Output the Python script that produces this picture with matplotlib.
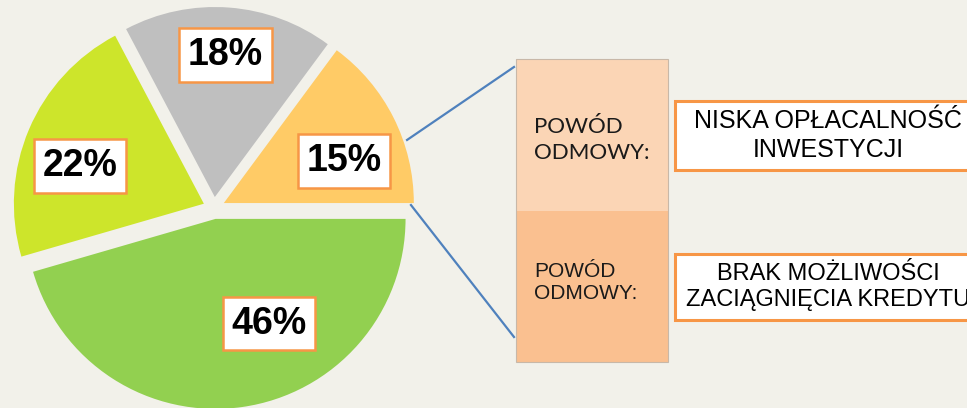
import numpy as np
import matplotlib.pyplot as plt
from matplotlib.patches import Rectangle

# Pie data (share of answers, %)
pie_values = [14.9, 17.9, 21.8, 45.6]
pie_labels = ['15%', '18%', '22%', '46%']
pie_colors = ['#FFCB66', '#BFBFBF', '#CDE52B', '#92D050']

# Bar of pie: split of the 15% slice
bar_values = [50, 50]
bar_texts = ['POWÓD\nODMOWY:', 'POWÓD\nODMOWY:']
bar_colors = ['#FBD5B5', '#FAC090']
reason_texts = ['NISKA OPŁACALNOŚĆ\nINWESTYCJI', 'BRAK MOŻLIWOŚCI\nZACIĄGNIĘCIA KREDYTU']

BG = '#F2F1EA'
ORANGE = '#F79646'
W, H = 967, 408

fig = plt.figure(figsize=(W / 100, H / 100), dpi=100, facecolor=BG)
ax = fig.add_axes([0, 0, 1, 1])
ax.set_facecolor(BG)

# pie
wedges, _ = ax.pie(pie_values, colors=pie_colors, startangle=0, counterclock=True,
                   radius=190, center=(214, 200), explode=[11] * 4,
                   wedgeprops=dict(linewidth=0))

# label placement: (angle shift from wedge middle, fraction of radius)
label_layout = [(-7.5, 0.67), (0, 0.75), (6, 0.68), (19, 0.62)]
for w, lab, (dang, frac) in zip(wedges, pie_labels, label_layout):
    ang = np.deg2rad((w.theta1 + w.theta2) / 2 + dang)
    x = w.center[0] + frac * w.r * np.cos(ang)
    y = w.center[1] + frac * w.r * np.sin(ang)
    ax.text(x, y, lab, ha='center', va='center', fontsize=27, fontweight='bold',
            family='Liberation Sans', color='black',
            bbox=dict(boxstyle='square,pad=0.23', facecolor='white',
                      edgecolor=ORANGE, linewidth=1.8))

# stacked bar for the 15% slice
bar_left, bar_w, bar_bottom, bar_h = 516, 152, 46, 303
scale = bar_h / sum(bar_values)
tops = []
bottom = bar_bottom + bar_h
for v, c in zip(bar_values, bar_colors):
    hgt = v * scale
    bottom -= hgt
    ax.bar(bar_left + bar_w / 2, hgt, width=bar_w, bottom=bottom, color=c,
           edgecolor='none', zorder=2)
    tops.append((bottom, hgt))
ax.add_patch(Rectangle((bar_left, bar_bottom), bar_w, bar_h, fill=False,
                       edgecolor='#C8B8A8', linewidth=0.8, zorder=3))

txt_style = [dict(family='Lato', fontsize=16, dy=-5, lsp=1.4),
             dict(family='Liberation Sans', fontsize=15, dy=4, lsp=1.2)]
for (b, hgt), t, st in zip(tops, bar_texts, txt_style):
    ax.text(534, b + hgt / 2 + st['dy'], t, ha='left', va='center',
            fontsize=st['fontsize'], family=st['family'], color='#1A1A1A',
            linespacing=st['lsp'], zorder=4)

# connector lines from the 15% wedge to the bar
ow = wedges[0]
a1 = np.deg2rad(19)
p1 = (ow.center[0] + 1.02 * ow.r * np.cos(a1), ow.center[1] + 1.02 * ow.r * np.sin(a1))
p2 = (ow.center[0] + 0.985 * ow.r, ow.center[1] - 2)
ax.plot([p1[0], bar_left - 2], [p1[1], bar_bottom + bar_h - 8], color='#4F81BD', lw=1.6, zorder=1)
ax.plot([p2[0], bar_left - 2], [p2[1], bar_bottom + 25], color='#4F81BD', lw=1.6, zorder=1)

# reason boxes
box_left, box_w = 675, 310
box_rows = [(238, 69, 18, 1.28), (88, 66, 17, 1.22)]
for (by, bh, fs, lsp), t in zip(box_rows, reason_texts):
    ax.add_patch(Rectangle((box_left, by), box_w, bh, facecolor='white',
                           edgecolor=ORANGE, linewidth=2.2, zorder=2))
    ax.text(box_left + 153, by + bh / 2, t, ha='center', va='center', fontsize=fs,
            family='Liberation Sans', color='black', linespacing=lsp, zorder=3)

ax.set_xlim(0, W)
ax.set_ylim(0, H)
ax.set_aspect('equal')
ax.axis('off')

fig.savefig('out.png', dpi=100, facecolor=BG)
